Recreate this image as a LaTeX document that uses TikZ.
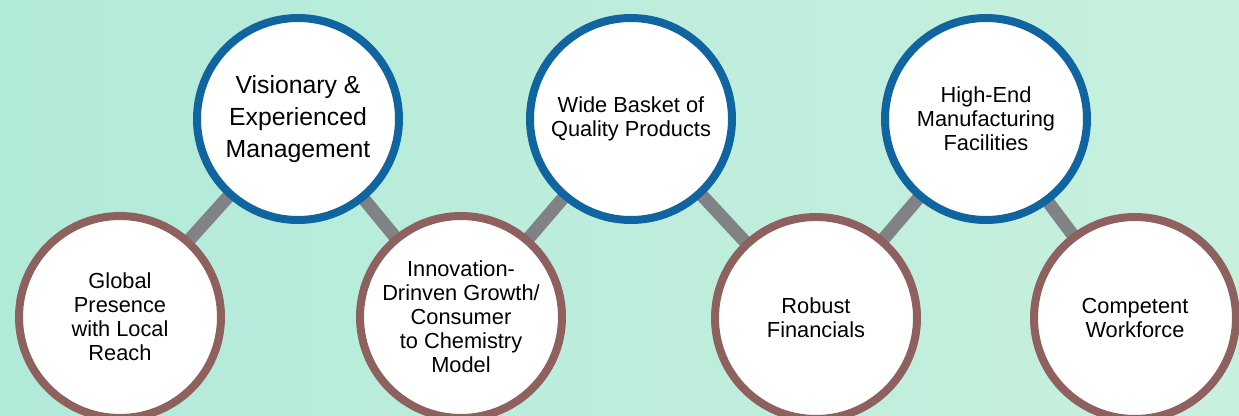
\documentclass[tikz,border=0pt]{standalone}
\usepackage{fontspec}
\setmainfont{Liberation Sans}
\definecolor{bgL}{RGB}{178,234,218}
\definecolor{bgR}{RGB}{200,240,222}
\definecolor{blueB}{RGB}{16,100,160}
\definecolor{brownB}{RGB}{142,96,94}
\definecolor{barG}{RGB}{128,130,133}
\pgfdeclarelayer{bg}
\pgfdeclarelayer{backdrop}
\pgfsetlayers{backdrop,bg,main}
\tikzset{
  disc/.style={circle, fill=white, line width=8pt, minimum size=202pt, inner sep=0pt, align=center, text=black, font=\fontsize{21.8}{24}\selectfont},
  topdisc/.style={disc, draw=blueB},
  lowdisc/.style={disc, draw=brownB},
  bar/.style={draw=barG, line width=13pt}
}
\begin{document}
\begin{tikzpicture}[x=1pt,y=-1pt]
\useasboundingbox (0,0) rectangle (1239,415);
\begin{pgfonlayer}{backdrop}
\shade[left color=bgL,right color=bgR] (0,0) rectangle (1239,415);
\end{pgfonlayer}
\clip (0,0) rectangle (1239,415);
\node[lowdisc] (c1) at (120,317) {Global\\Presence\\with Local\\Reach};
\node[topdisc, font=\fontsize{24.8}{32}\selectfont] (c2) at (298,119) {Visionary \&\\Experienced\\Management};
\node[lowdisc] (c3) at (461,317) {Innovation-\\Drinven Growth/\\Consumer\\to Chemistry\\Model};
\node[topdisc] (c4) at (631,119) {Wide Basket of\\Quality Products};
\node[lowdisc] (c5) at (816,318) {Robust\\Financials};
\node[topdisc] (c6) at (986,119) {High-End\\Manufacturing\\Facilities};
\node[lowdisc] (c7) at (1135,318) {Competent\\Workforce};
\begin{pgfonlayer}{bg}
\draw[bar] (c1.center) -- (c2.center) -- (c3.center) -- (c4.center) -- (c5.center) -- (c6.center) -- (c7.center);
\end{pgfonlayer}
\end{tikzpicture}
\end{document}
